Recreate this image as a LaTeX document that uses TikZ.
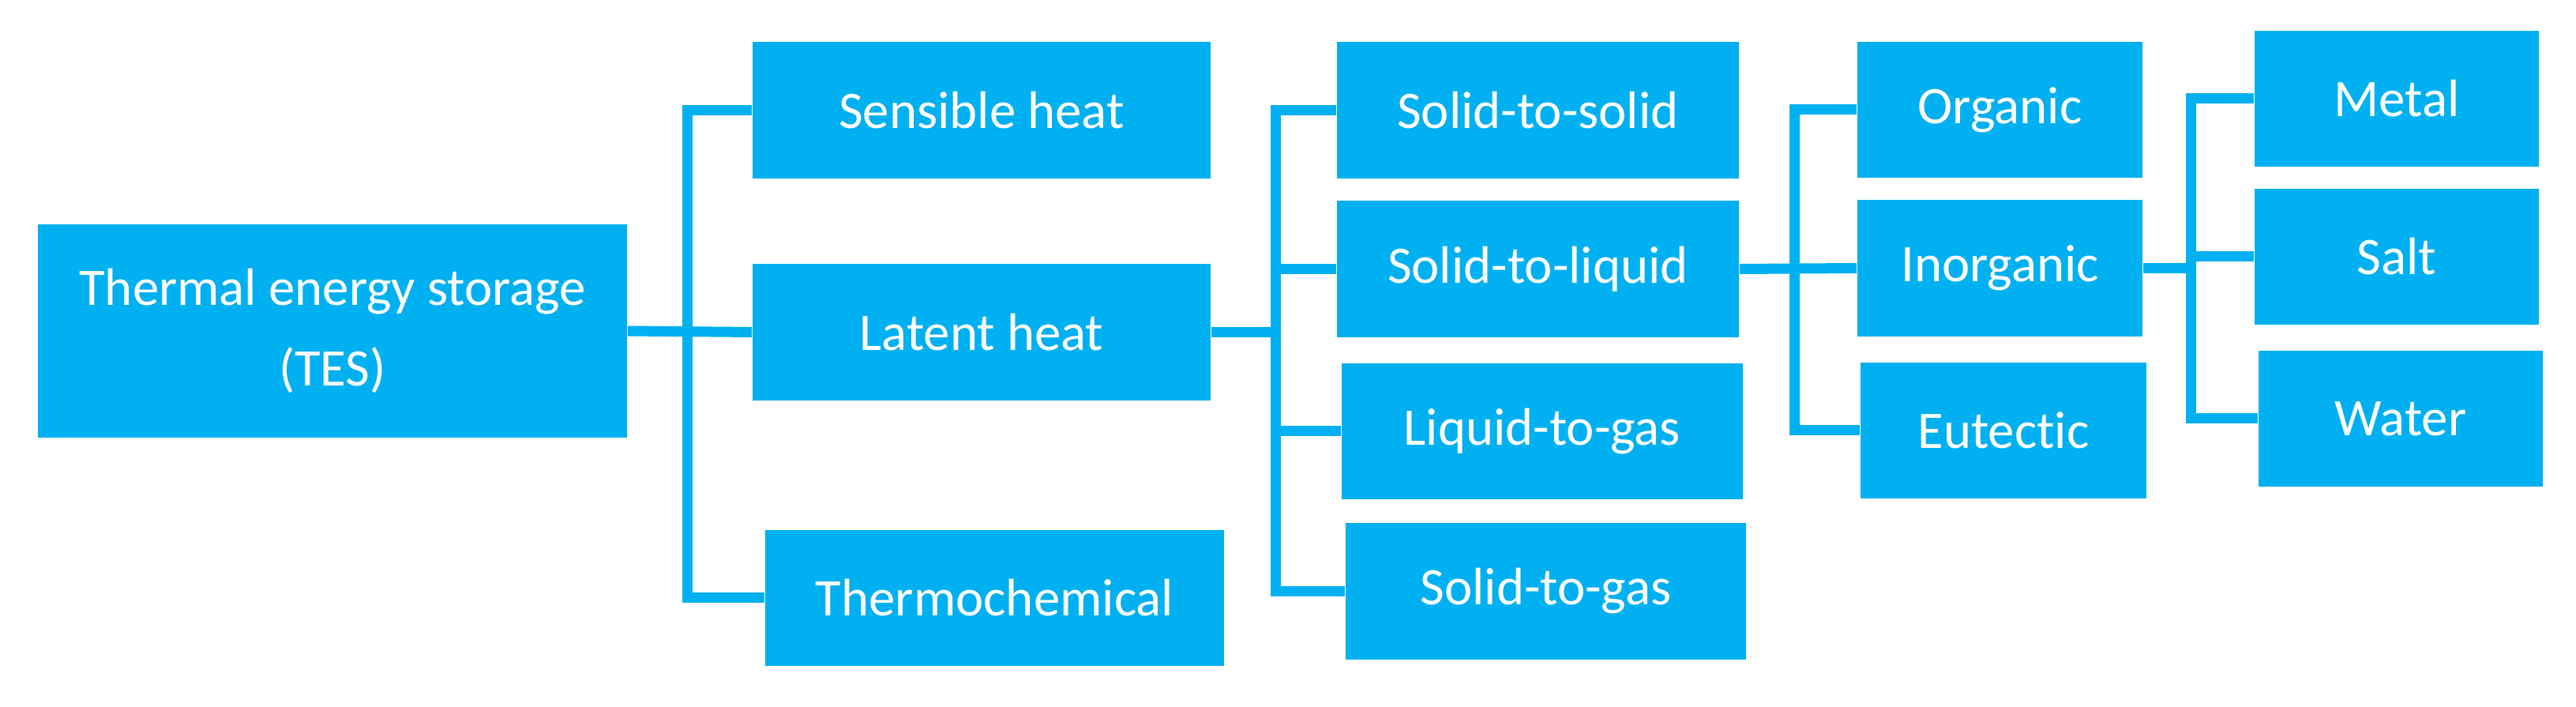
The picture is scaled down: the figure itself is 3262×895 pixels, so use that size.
\documentclass[tikz,border=0pt]{standalone}
\usepackage{fontspec}
\setmainfont{Carlito}[Ligatures=NoCommon]
\definecolor{tesblue}{HTML}{00B0F0}
\tikzset{
  tbox/.style={fill=tesblue, text=white, inner sep=0pt, minimum height=1.72cm,
    align=center, font=\fontsize{19}{29}\selectfont},
  link/.style={draw=tesblue, line width=3.7pt},
}
\begin{document}
\begin{tikzpicture}[x=0.01cm, y=-0.01cm]
  \useasboundingbox (0,0) rectangle (3262,895);
  \coordinate (j1) at (870,0);
  \coordinate (j2) at (1615,0);
  \coordinate (j3) at (2272,0);
  \coordinate (j4) at (2774,0);
  % boxes
  \node[tbox, minimum width=7.46cm, minimum height=2.70cm] (tes) at (421,419) {Thermal energy storage\\(TES)};
  \node[tbox, minimum width=5.80cm] (sens) at (1243,139.5) {Sensible heat};
  \node[tbox, minimum width=5.80cm] (lat) at (1243,420.5) {Latent heat};
  \node[tbox, minimum width=5.81cm] (thch) at (1259.5,757) {Thermochemical};
  \node[tbox, minimum width=5.09cm] (ss) at (1947.5,139.5) {Solid-to-solid};
  \node[tbox, minimum width=5.09cm] (sl) at (1947.5,340.5) {Solid-to-liquid};
  \node[tbox, minimum width=5.08cm] (lg) at (1953,546) {Liquid-to-gas};
  \node[tbox, minimum width=5.07cm] (sg) at (1957.5,748.5) {Solid-to-gas};
  \node[tbox, minimum width=3.61cm] (org) at (2532.5,139) {Organic};
  \node[tbox, minimum width=3.61cm] (inorg) at (2532.5,339.5) {Inorganic};
  \node[tbox, minimum width=3.62cm] (eut) at (2537,545) {Eutectic};
  \node[tbox, minimum width=3.60cm] (metal) at (3035,125) {Metal};
  \node[tbox, minimum width=3.60cm] (salt) at (3035,325) {Salt};
  \node[tbox, minimum width=3.60cm] (water) at (3040,530) {Water};
  % connectors
  \draw[link] (tes.east) -- (lat.west);
  \draw[link] (sens.west) -- (sens.west -| j1) -- (thch.west -| j1) -- (thch.west);
  \draw[link] (lat.east) -- (lat.east -| j2);
  \draw[link] (ss.west) -- (ss.west -| j2) -- (sg.west -| j2) -- (sg.west);
  \draw[link] (sl.west -| j2) -- (sl.west) (lg.west -| j2) -- (lg.west);
  \draw[link] (sl.east) -- (inorg.west);
  \draw[link] (org.west) -- (org.west -| j3) -- (eut.west -| j3) -- (eut.west);
  \draw[link] (inorg.east) -- (inorg.east -| j4);
  \draw[link] (metal.west) -- (metal.west -| j4) -- (water.west -| j4) -- (water.west);
  \draw[link] (salt.west -| j4) -- (salt.west);
\end{tikzpicture}
\end{document}
